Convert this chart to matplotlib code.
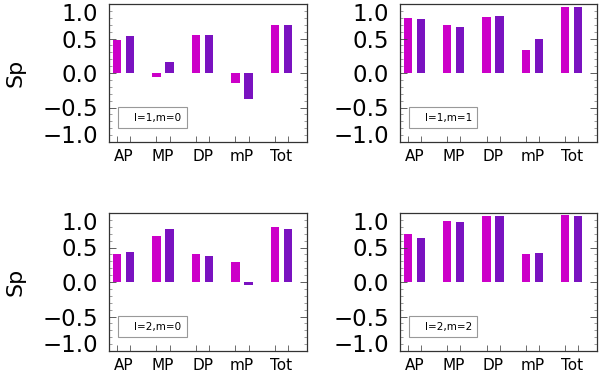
import matplotlib
matplotlib.use("Agg")
import matplotlib.pyplot as plt
from matplotlib.patches import Rectangle
from matplotlib.ticker import MultipleLocator, FixedLocator
from matplotlib.transforms import offset_copy, blended_transform_factory
import numpy as np

categories = ['AP', 'MP', 'DP', 'mP', 'Tot']
panel_labels = ['l=1,m=0', 'l=1,m=1', 'l=2,m=0', 'l=2,m=2']
series_a = [
    [0.48, -0.06, 0.55, -0.14, 0.69],
    [0.79, 0.69, 0.81, 0.33, 0.95],
    [0.41, 0.66, 0.40, 0.29, 0.80],
    [0.70, 0.89, 0.96, 0.40, 0.97],
]
series_b = [
    [0.54, 0.16, 0.55, -0.37, 0.69],
    [0.78, 0.66, 0.83, 0.50, 0.95],
    [0.44, 0.77, 0.38, -0.05, 0.77],
    [0.64, 0.87, 0.95, 0.42, 0.96],
]
ytick_vals = [-1.0, -0.5, 0.0, 0.5, 1.0]
ytick_labels = ['\u22121.0', '\u22120.5', '0.0', '0.5', '1.0']

color_a = '#CC00C8'
color_b = '#7A12C0'

plt.rcParams['font.family'] = ['DejaVu Sans']

fig = plt.figure(figsize=(6.0, 3.72), dpi=100)

W, H = 600.0, 372.0
boxes = [
    (109, 4, 198, 138),
    (400, 4, 197, 138),
    (109, 213, 198, 138),
    (400, 213, 197, 138),
]

x = np.arange(len(categories))
off = 0.165
bw = 0.215
yfs = 16.5

for i, (l, t, w, h) in enumerate(boxes):
    ax = fig.add_axes([l / W, 1 - (t + h) / H, w / W, h / H])
    ax.bar(x - off, series_a[i], width=bw, color=color_a, linewidth=0)
    ax.bar(x + off, series_b[i], width=bw, color=color_b, linewidth=0)
    ax.set_xlim(-0.367, 4.645)
    ax.set_ylim(-1.0, 1.0)

    # y ticks (end labels drawn separately, shifted inwards as in the reference)
    ax.set_yticks(ytick_vals)
    ax.set_yticklabels([''] + ytick_labels[1:-1] + [''], fontsize=yfs)
    ax.yaxis.set_minor_locator(MultipleLocator(0.1))
    ax.tick_params(axis='y', which='major', direction='in', length=5, width=0.6,
                   left=True, right=True, pad=8, colors='#444444', labelcolor='black')
    ax.tick_params(axis='y', which='minor', direction='in', length=2.5, width=0.5,
                   left=True, right=True, colors='#777777')
    bt = blended_transform_factory(ax.transAxes, ax.transData)
    top_tr = offset_copy(bt, fig=fig, x=-8, y=-7.5, units='points')
    bot_tr = offset_copy(bt, fig=fig, x=-8, y=4.3, units='points')
    ax.text(0, ytick_vals[-1], ytick_labels[-1], transform=top_tr,
            ha='right', va='center', fontsize=yfs)
    ax.text(0, ytick_vals[0], ytick_labels[0], transform=bot_tr,
            ha='right', va='center', fontsize=yfs)

    # x ticks: marks at bar centres, labels at group centres
    bar_pos = list(np.concatenate([x - off, x + off]))
    ax.xaxis.set_major_locator(FixedLocator(x))
    ax.set_xticklabels(categories, fontsize=11)
    ax.tick_params(axis='x', which='major', length=0, pad=5)
    ax.xaxis.set_minor_locator(FixedLocator(bar_pos))
    ax.tick_params(axis='x', which='minor', direction='in', length=4, width=0.6,
                   bottom=True, top=False, colors='#555555')

    for sp in ax.spines.values():
        sp.set_color('#333333')
        sp.set_linewidth(0.9)

    # label box
    ax.add_patch(Rectangle((0.044, 0.099), 0.348, 0.152, transform=ax.transAxes,
                           fill=False, edgecolor='#999999', linewidth=0.8))
    ax.text(0.245, 0.176, panel_labels[i], transform=ax.transAxes,
            ha='center', va='center', fontsize=7.5)

    if i % 2 == 0:
        ax.set_ylabel('Sp', fontsize=16, labelpad=12)

fig.savefig('out.png', dpi=100)
